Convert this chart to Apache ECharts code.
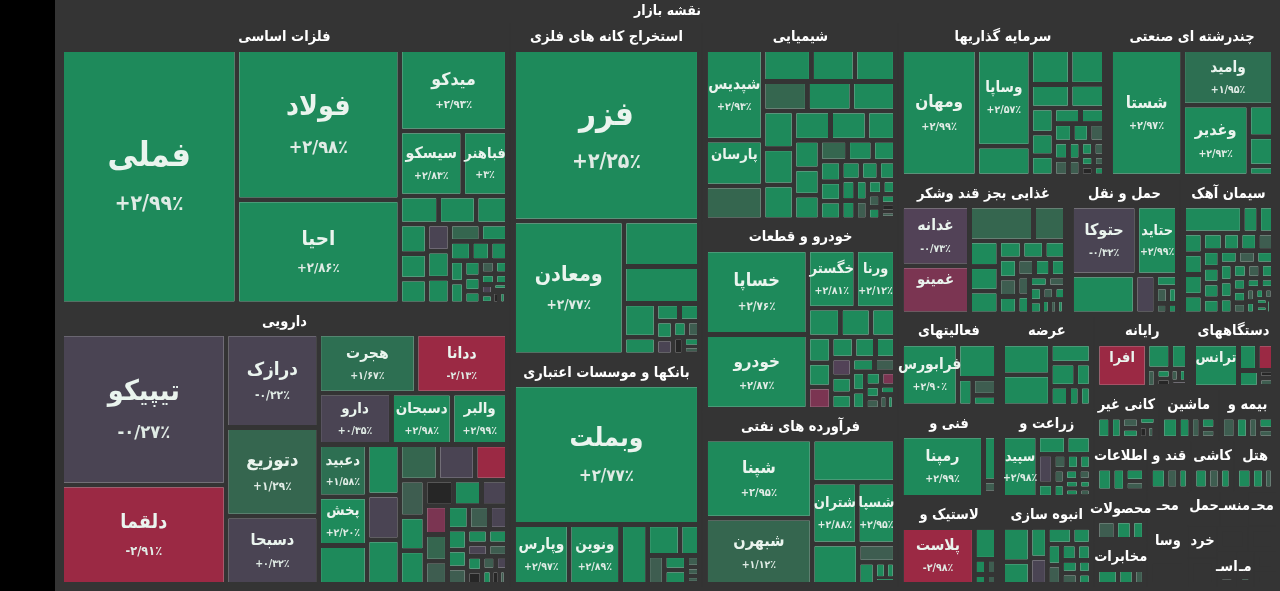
<!DOCTYPE html>
<html><head><meta charset="utf-8">
<script src="https://cdn.jsdelivr.net/npm/echarts@6/dist/echarts.min.js"></script>
<style>html,body{margin:0;padding:0;background:#000;overflow:hidden}#c{width:1280px;height:591px}</style>
</head><body><div id="c"></div>
<script>
// ---------------- data ----------------
const mapTitle = 'نقشه بازار';

const metals = [['فملی',43180,2.99],['فولاد',23700,2.98],['احیا',16432,2.86],['میدکو',8510,2.93],['سیسکو',3960,2.83],['فباهنر',2820,3],
 ['',1054,2.9],['',1020,2.9],['',850,2.9],['',782,2.9],['',675,2.9],['',650,2.9],['',600,2.9],['',600,-0.3],['',560,2.9],['',520,1.0],
 ['',450,2.9],['',400,2.9],['',350,2.9],['',320,2.9],['',300,2.9],['',300,2.9],['',260,2.9],['',230,2.9],['',200,2.9],['',180,0.9],
 ['',160,2.9],['',150,2.9],['',130,2.9],['',120,-0.3],['',110,2.9],['',100,2.9],['',90,null],['',80,2.9]];
const pharma = [['تیپیکو',24585,-0.27],['دلقما',16170,-2.91],['درازک',8556,-0.22],['دتوزیع',8091,1.29],['دسبحا',6231,0.32],['هجرت',5734,1.67],
 ['ددانا',5368,-2.13],['دارو',3692,0.35],['دسبحان',3068,2.98],['والبر',2808,2.99],['دعبید',2496,1.58],['پخش',2340,2.20],
 ['',1872,2.9],['',1620,2.9],['',1440,2.9],['',1440,-0.3],['',1344,1.0],['',1312,-0.3],['',1134,-2.5],['',900,0.8],['',837,2.9],['',837,2.9],
 ['',720,null],['',700,2.9],['',650,-0.3],['',648,-1.5],['',600,1.0],['',520,0.8],['',500,2.9],['',484,0.8],['',420,-0.3],['',400,2.9],
 ['',350,2.9],['',320,0.8],['',300,2.9],['',280,2.9],['',260,-0.3],['',240,0.8],['',220,2.9],['',200,null],['',180,0.8],['',160,-0.3],
 ['',140,2.9],['',120,null],['',100,0.8]];
const mining = [['فزر',31080,2.25],['ومعادن',14416,2.77],['',3354,2.9],['',2730,2.9],['',1053,2.9],['',546,2.9],['',400,2.9],['',340,2.9],
 ['',300,2.9],['',260,-0.3],['',220,2.9],['',200,0.8],['',180,null],['',150,2.9],['',120,0.8]];
const banks = [['وبملت',25530,2.77],['وپارس',3276,2.97],['ونوین',3024,2.89],['',1591,2.9],['',989,2.9],['',588,2.9],['',476,0.8],
 ['',315,2.9],['',315,2.9],['',150,0.8],['',120,0.8],['',100,0.8]];
const chem = [['شپدیس',4984,2.93],['پارسان',2520,2.97],['',1848,1.0],['',1480,2.9],['',1332,2.9],['',1240,2.9],['',1240,1.2],['',1240,2.9],
 ['',1221,2.9],['',1110,2.9],['',1073,2.9],['',1023,2.9],['',1023,2.9],['',1023,2.9],['',800,2.9],['',700,2.9],['',650,2.9],['',600,2.9],
 ['',550,1.0],['',500,2.9],['',450,2.9],['',420,2.9],['',400,2.9],['',380,2.9],['',350,2.9],['',320,2.9],['',300,2.9],['',280,2.9],
 ['',260,2.9],['',240,2.9],['',220,0.8],['',200,2.9],['',180,2.9],['',160,0.8],['',150,2.9],['',140,2.9],['',120,null],['',100,0.8]];
const autos = [['خساپا',8585,2.76],['خودرو',7575,2.87],['خگستر',2773,2.81],['ورنا',2301,2.12],['',928,2.9],['',870,2.9],['',696,2.9],
 ['',600,2.9],['',560,2.9],['',520,-1.2],['',480,2.9],['',450,2.9],['',420,2.9],['',380,-0.5],['',350,2.9],['',320,2.9],['',300,2.9],
 ['',280,0.8],['',260,2.9],['',240,2.9],['',220,2.9],['',200,-1.2],['',180,2.9],['',160,0.8],['',140,2.9],['',120,0.8],['',100,2.9]];
const oil = [['شپنا',8320,2.95],['شبهرن',6968,1.12],['',3526,2.9],['شتران',2745,2.88],['شسپا',2318,2.95],['',1845,2.9],['',676,0.9],
 ['',364,2.9],['',180,2.9],['',150,2.9],['',120,2.9]];
const invest = [['ومهان',9198,2.99],['وساپا',5035,2.57],['',1537,2.9],['',1326,2.9],['',1156,2.9],['',897,2.9],['',782,2.9],['',560,2.9],
 ['',500,2.9],['',450,2.9],['',400,2.9],['',360,2.9],['',330,2.9],['',300,2.9],['',270,0.8],['',250,2.9],['',230,0.8],['',210,2.9],
 ['',190,0.8],['',170,2.9],['',150,0.8],['',130,2.9],['',120,null],['',110,0.8],['',100,2.9]];
const multi = [['شستا',9000,2.97],['وامید',5005,1.95],['وغدیر',4620,2.93],['',768,2.9],['',720,2.9],['',240,2.9]];
const food = [['غدانه',4080,-0.73],['غمینو',3264,-1.46],['',2240,1.0],['',1120,1.0],['',750,2.9],['',720,2.9],['',660,2.9],['',420,2.9],
 ['',400,2.9],['',380,2.9],['',360,2.9],['',340,0.8],['',320,2.9],['',300,0.8],['',280,2.9],['',260,2.9],['',240,0.8],['',220,2.9],
 ['',200,2.9],['',190,0.8],['',180,2.9],['',160,2.9],['',150,0.8],['',140,2.9],['',120,2.9],['',110,0.8],['',100,2.9]];
const transport = [['حتوکا',4416,-0.32],['حتاید',2760,2.99],['',2418,2.9],['',780,-0.3],['',260,2.9],['',200,0.8],['',150,2.9],['',120,0.8],['',100,2.9]];
const cement = [['',1566,2.9],['',432,2.9],['',396,2.9],['',396,2.9],['',396,2.9],['',396,2.9],['',351,2.9],['',351,2.9],['',300,2.9],
 ['',300,2.9],['',280,2.9],['',280,0.9],['',260,2.9],['',260,2.9],['',250,2.9],['',240,0.9],['',240,2.9],['',230,2.9],['',220,2.9],
 ['',220,2.9],['',200,2.9],['',200,2.9],['',190,0.9],['',180,2.9],['',170,2.9],['',160,2.9],['',150,0.9],['',140,2.9],['',130,2.9],
 ['',120,0.9],['',110,2.9],['',100,2.9],['',95,0.9],['',90,2.9],['',85,2.9],['',80,2.9]];
const finAux = [['فرابورس',3286,2.90],['',1260,2.9],['',375,0.9],['',375,2.9],['',234,2.9]];
const engin = [['رمپنا',5040,2.99],['',585,2.9],['',156,0.9],['',60,-2.5]];
const rubber = [['پلاست',4140,-2.98],['',702,2.9],['',180,2.9],['',150,0.9],['',120,2.9],['',100,0.9]];
const utility = [['',1350,2.9],['',1350,2.9],['',720,2.9],['',529,2.9],['',323,2.9],['',322,2.9],['',200,2.9],['',200,2.9]];
const agri = [['سپید',2205,2.98],['',540,2.9],['',468,-0.3],['',468,2.9],['',220,2.9],['',200,0.9],['',190,2.9],['',180,2.9],['',170,0.9],
 ['',160,2.9],['',150,2.9],['',140,0.9],['',130,2.9],['',120,2.9],['',110,2.9],['',100,0.9]];
const realty = [['',900,2.9],['',600,2.9],['',506,2.9],['',440,-0.3],['',396,2.9],['',300,2.9],['',280,2.9],['',260,0.9],['',240,2.9],
 ['',220,2.9],['',200,2.9],['',180,0.9],['',160,2.9],['',140,2.9]];
const computer = [['افرا',1935,-2.92],['',525,2.9],['',378,2.9],['',150,0.9],['',130,2.9],['',110,null],['',100,0.9],['',90,2.9],['',80,-0.3]];
const electric = [['ترانس',1935,2.20],['',500,2.9],['',425,-2.5],['',340,2.9],['',120,0.9],['',120,null]];
const nonmetal = [['',300,2.9],['',250,2.9],['',200,0.9],['',180,2.9],['',150,2.9],['',120,null],['',100,0.9]];
const machine = [['',300,2.9],['',220,2.9],['',180,0.9],['',150,2.9],['',120,0.9]];
const insurance = [['',250,0.9],['',220,2.9],['',180,0.9],['',150,2.9],['',120,0.9]];
const infoTech = [['',280,2.9],['',240,2.9],['',200,2.9],['',150,0.9]];
const paper = [['',300,0.8],['',260,2.9],['',200,2.9]];
const telecom = [['',400,2.9],['',300,2.9],['',200,0.9]];
const sugar = [['',260,2.9],['',200,0.9],['',160,2.9]];
const hotel = [['',240,2.9],['',200,2.9],['',150,0.9]];
const tile = [['',230,2.9],['',200,0.9],['',180,2.9]];
const tiny1 = [['',200,2.9],['',150,-2.5]];
const tiny2 = [['',200,2.9],['',150,0.9]];
const tiny3 = [['',200,2.9],['',120,0.9]];
const tiny4 = [['',180,2.9],['',120,2.9]];
const tiny5 = [['',180,0.9],['',120,2.9]];
const tiny6 = [['',160,2.9],['',100,0.9]];
const tiny7 = [['',150,2.9],['',100,2.9]];
const tiny8 = [['',150,2.9],['',100,0.9]];
const tiny9 = [['',140,2.9],['',90,0.9]];
const tiny10 = [['',130,2.9],['',90,2.9]];
const tiny11 = [['',120,0.9]];
const tiny12 = [['',110,2.9]];
const tiny13 = [['',100,2.9]];
const tiny14 = [['',90,2.9]];

// sector headers as they are printed on the map
const sectorNames = ['فلزات اساسی','دارویی','استخراج کانه های فلزی','بانکها و موسسات اعتباری','شیمیایی','خودرو و قطعات',
 'فرآورده های نفتی','سرمایه گذاریها','چندرشته ای صنعتی','غذایی بجز قند وشکر','حمل و نقل','سیمان آهک',
 'فعالیتهای','فنی و','لاستیک و','عرضه','زراعت و','انبوه سازی','رایانه','دستگاههای','کانی غیر','ماشین',
 'بیمه و','اطلاعات','محصولات','مخابرات','قند و','هتل','کاشی','محـ','وسا','است','حمل','منسـ','محـ','خرد','است',
 'سایر','واسطه','اسـ','مـ','حـ','ذار'];
const sectorSizes = [128368,126786,64320,44064,39200,37142,34300,32667,26415,23409,15422,13219,9300,9250,8787,8700,8650,8222,7093,6321,
 3300,3050,2950,2800,2600,2400,2200,2150,2150,1400,1300,1200,1100,1000,950,900,850,800,750,700,600,450,350];
const sectorItems = [metals,pharma,mining,banks,chem,autos,oil,invest,multi,food,transport,cement,finAux,engin,rubber,utility,agri,realty,
 computer,electric,nonmetal,machine,insurance,infoTech,paper,telecom,sugar,hotel,tile,tiny1,tiny2,tiny3,tiny4,tiny5,tiny6,tiny7,tiny8,
 tiny9,tiny10,tiny11,tiny12,tiny13,tiny14];

// ---------------- styling ----------------
const BG = '#343434';
const FONT = '"DejaVu Sans Condensed", "DejaVu Sans", sans-serif';
function colorOf(c) {
  if (c == null) return '#262626';
  if (c >= 2) return '#1e8a5b';
  if (c >= 1.5) return '#2d6f52';
  if (c >= 1) return '#35664f';
  if (c >= 0.5) return '#3e5d50';
  if (c > -0.5) return '#4a4453';
  if (c > -1) return '#524257';
  if (c > -2) return '#7b3552';
  return '#9b2944';
}
function fa(s) { return s.replace(/[0-9]/g, d => '۰۱۲۳۴۵۶۷۸۹'[+d]); }
function fmt(c) {
  if (c == null) return '';
  let s = Math.abs(c).toFixed(2);
  if (s.endsWith('.00')) s = s.slice(0, -3);
  return (c < 0 ? '-' : '+') + fa(s).replace('.', '/') + '٪';
}
function richFor(fs, ps) {
  return {
    n: {fontSize: fs, lineHeight: Math.round(fs * 1.65), fontWeight: 'bold', fontFamily: FONT, color: '#eaf4ee'},
    p: {fontSize: ps, lineHeight: Math.round(ps * 1.8), fontWeight: 'bold', fontFamily: FONT, color: '#e0ebe5'}
  };
}
function labelFor(wh) {
  const m = Math.min(wh[0], wh[1]);
  const fs = Math.max(13.5, Math.min(34, 13.5 + 0.0007 * m * m));
  const ps = Math.max(10.5, Math.min(21, fs * 0.64));
  const block = Math.round(fs * 1.65) + Math.round(ps * 1.8);
  const padTop = Math.max(0, (wh[1] - block) / 2);
  return {rich: richFor(fs, ps), padding: [padTop, 0, 0, 0]};
}
const leafNames = new Set();
sectorItems.forEach(a => a.forEach(r => { if (r[0]) leafNames.add(r[0]); }));

function buildData(fm) {
  return [{
    name: mapTitle,
    children: sectorNames.map((sn, i) => ({
      name: sn,
      value: sectorSizes[i],
      children: sectorItems[i].map(r => {
        const it = {name: r[0], value: r[1], chg: r[2], itemStyle: {color: colorOf(r[2])}};
        if (r[0] && fm && fm[r[0]]) it.label = labelFor(fm[r[0]]);
        return it;
      })
    }))
  }];
}
function makeOption(fm) {
  return {
    animation: false,
    series: [{
      type: 'treemap',
      left: 55, right: 0, top: 0, bottom: 0,
      squareRatio: 0.9,
      roam: false, nodeClick: false, drillDownIcon: '',
      breadcrumb: {show: false},
      visibleMin: 2,
      levels: [
        {itemStyle: {borderWidth: 0, gapWidth: 0, color: BG, borderColor: BG}},
        {itemStyle: {borderWidth: 4, gapWidth: 1, color: BG, borderColor: BG},
         upperLabel: {show: true, height: 23, position: 'inside', color: '#ffffff', fontSize: 14, fontWeight: 'bold', fontFamily: FONT}},
        {itemStyle: {borderWidth: 5, gapWidth: 5, color: BG, borderColor: BG},
         upperLabel: {show: true, height: 29, position: 'inside', color: '#ffffff', fontSize: 14.5, fontWeight: 'bold', fontFamily: FONT,
                      overflow: 'none'}},
        {itemStyle: {borderWidth: 0, gapWidth: 0},
         label: {show: true, position: 'inside', padding: 0, overflow: 'none',
                 formatter: p => (p.data && p.data.name) ? '{n|' + p.data.name + '}\n{p|' + fmt(p.data.chg) + '}' : '',
                 rich: richFor(13, 10)}}
      ],
      data: buildData(fm)
    }]
  };
}

const chart = echarts.init(document.getElementById('c'), null, {renderer: 'canvas'});
chart.setOption(makeOption(null));
try {
  const data = chart.getModel().getSeriesByIndex(0).getData();
  const fm = {};
  for (let i = 0; i < data.count(); i++) {
    const nm = data.getName(i);
    if (leafNames.has(nm)) {
      const l = data.getItemLayout(i);
      if (l && l.width) fm[nm] = [l.width, l.height];
    }
  }
  chart.setOption(makeOption(fm), true);
} catch (e) { console.log(e); }
</script>
</body></html>
